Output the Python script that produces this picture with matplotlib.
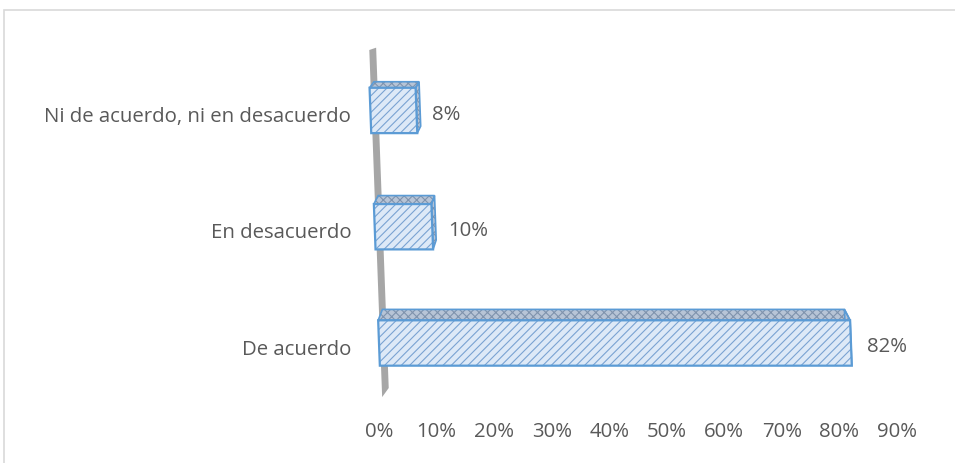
import matplotlib.pyplot as plt
from matplotlib.patches import Polygon, Rectangle
from matplotlib.transforms import Affine2D, IdentityTransform, ScaledTranslation
import numpy as np

# Datos de la encuesta
categorias = ["De acuerdo", "En desacuerdo", "Ni de acuerdo, ni en desacuerdo"]
porcentajes = [82, 10, 8]
ticks_x = [0, 10, 20, 30, 40, 50, 60, 70, 80, 90]

plt.rcParams['font.family'] = ['Open Sans', 'DejaVu Sans']
plt.rcParams['hatch.linewidth'] = 0.8

W, H = 955, 463
fig = plt.figure(figsize=(W / 100, H / 100), dpi=100)
ax = fig.add_axes([379 / W, 1 - 398 / H, (897 - 379) / W, (398 - 45) / H])
ax.set_xlim(0, 90)
ax.set_ylim(-0.473, 2.563)

# inclinacion de la pared (efecto 3D de Excel)
y_ref = ax.transData.transform((0, 0))[1]
s = 0.037
skew = Affine2D(np.array([[1, -s, s * y_ref], [0, 1, 0], [0, 0, 1]]))
trans = ax.transData + skew

# pared gris
pared = Polygon([(0.2, -0.465), (0.2, 2.52), (1.4, 2.54), (1.4, -0.387)],
                closed=True, facecolor="#a6a6a6", edgecolor="none",
                transform=trans, zorder=1, clip_on=False)
ax.add_patch(pared)

h = 0.39
pos = np.arange(len(categorias))

# caras superior y lateral (perspectiva)
V = np.array([580.0, H + 200.0])
k = 0.021
for i, v in zip(pos, porcentajes):
    FL = trans.transform((0, i + h / 2))
    FR = trans.transform((v, i + h / 2))
    FBR = trans.transform((v, i - h / 2))
    BL = FL + k * (V - FL)
    BR = FR + k * (V - FR)
    BBR = FBR + k * (V - FBR)
    for pts in ([FL, FR, BR, BL], [FR, FBR, BBR, BR]):
        ax.add_patch(Polygon(pts, closed=True, facecolor="#b7c4d6", edgecolor="#7f93ad",
                             hatch="xxxx", linewidth=0, transform=IdentityTransform(),
                             zorder=2, clip_on=False))
        ax.add_patch(Polygon(pts, closed=True, facecolor="none", edgecolor="#5b9bd5",
                             linewidth=1.2, transform=IdentityTransform(),
                             zorder=2.5, clip_on=False))

# cara frontal con rayado
relleno = ax.barh(pos, porcentajes, height=h, color="#dde9f7", edgecolor="#7aa3d2",
                  hatch="////", linewidth=0, zorder=3)
borde = ax.barh(pos, porcentajes, height=h, color="none", edgecolor="#5b9bd5",
                linewidth=1.6, zorder=4)
for p in list(relleno) + list(borde):
    p.set_transform(trans)
    p.set_clip_on(False)

# etiquetas de datos
for i, v in zip(pos, porcentajes):
    ax.annotate(f"{v}%", (v, i), xycoords=trans, xytext=(11.5, -3),
                textcoords="offset points", ha="left", va="center",
                fontsize=14.7, color="#595959")

ax.set_xticks(ticks_x, [f"{t}%" for t in ticks_x])
ax.set_yticks(pos, categorias)
ax.tick_params(axis="x", length=0, pad=17.5, labelsize=14.7, labelcolor="#595959")
ax.tick_params(axis="y", length=0, pad=20, labelsize=14.7, labelcolor="#595959")
bajar = ScaledTranslation(0, -0.04, fig.dpi_scale_trans)
for lab in ax.get_yticklabels():
    lab.set_transform(lab.get_transform() + bajar)
for sp in ax.spines.values():
    sp.set_visible(False)

# borde del grafico
fig.patches.append(Rectangle((4 / W, -0.1), 2, 1 - 10 / H + 0.1, fill=False,
                             edgecolor="#d9d9d9", linewidth=1.2,
                             transform=fig.transFigure, figure=fig))

fig.savefig("out.png", dpi=100)
